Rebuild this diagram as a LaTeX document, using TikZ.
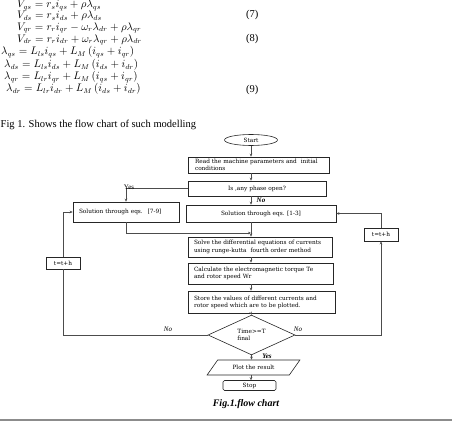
\documentclass[tikz,border=0pt]{standalone}
\usepackage{fontspec}
\setmainfont{Liberation Serif}
\newfontfamily\organi{DejaVu Serif}
\usetikzlibrary{shapes.geometric,arrows.meta}

\tikzset{
  eqn/.style={anchor=west, inner sep=0pt, font=\fontsize{10.5}{12}\selectfont},
  boite/.style={draw=black!85, rectangle, line width=0.6pt, inner sep=0pt, font=\organi\fontsize{5.8}{7.2}\selectfont},
  fleche/.style={draw=black!70, line width=0.5pt, -{Stealth[length=3pt,width=2.6pt]}},
  lien/.style={draw=black!70, line width=0.5pt},
  etiq/.style={inner sep=0pt, font=\fontsize{7}{8}\selectfont}
}

\begin{document}
\begin{tikzpicture}[x=1pt,y=-1pt]
    \useasboundingbox (0,0) rectangle (452,422);

    % Equations du modele
    \node[eqn] (eqA) at (17,5.5) {$V_{qs} = r_s i_{qs} + \rho\lambda_{qs}$};
    \node[eqn] (eqB) at (17,16) {$V_{ds} = r_s i_{ds} + \rho\lambda_{ds}$};
    \node[eqn] (eqC) at (17,28) {$V_{qr} = r_r i_{qr} - \omega_r\lambda_{dr} + \rho\lambda_{qr}$};
    \node[eqn] (eqD) at (17,40) {$V_{dr} = r_r i_{dr} + \omega_r\lambda_{qr} + \rho\lambda_{dr}$};
    \node[eqn] (eqE) at (1,52) {$\lambda_{qs} = L_{ls} i_{qs} + L_M\left(i_{qs} + i_{qr}\right)$};
    \node[eqn] (eqF) at (4,65) {$\lambda_{ds} = L_{ls} i_{ds} + L_M\left(i_{ds} + i_{dr}\right)$};
    \node[eqn] (eqG) at (4,77) {$\lambda_{qr} = L_{lr} i_{qr} + L_M\left(i_{qs} + i_{qr}\right)$};
    \node[eqn] (eqH) at (6,89) {$\lambda_{dr} = L_{lr} i_{dr} + L_M\left(i_{ds} + i_{dr}\right)$};
    \node[eqn] (num7) at (246,15) {(7)};
    \node[eqn] (num8) at (246,39) {(8)};
    \node[eqn] (num9) at (246,90) {(9)};
    \node[eqn] (phrase) at (0.5,125) {Fig 1. Shows the flow chart of such modelling};

    % Organigramme
    \coordinate (axe) at (251,0);
    \node[draw=black!85, ellipse, line width=0.6pt, inner sep=0pt, minimum width=53, minimum height=11,
          font=\organi\fontsize{5.8}{7}\selectfont] (debut) at (251,140) {Start};
    \node[boite, minimum width=141, minimum height=16, text width=127, align=left] (lire) at (258.5,165)
        {Read the machine parameters and~ initial\\conditions};
    \node[boite, minimum width=138, minimum height=15] (phase) at (257,188.5) {Is ,any phase open?};
    \node[boite, minimum width=106, minimum height=20, text width=94, align=left] (solA) at (126,212)
        {Solution through eqs.~ [7-9]};
    \node[boite, minimum width=150, minimum height=17] (solB) at (261,213.5) {Solution through eqs. [1-3]};
    \node[boite, minimum width=144, minimum height=20, text width=132, align=left] (resoudre) at (260,247)
        {Solve the differential equations of currents\\using runge-kutta~ fourth order method};
    \node[boite, minimum width=145, minimum height=21, text width=133, align=left] (calcul) at (260.5,273.5)
        {Calculate the electromagnetic torque Te\\and rotor speed Wr};
    \node[boite, minimum width=147, minimum height=22, text width=135, align=left] (stocker) at (261.5,302)
        {Store the values of different currents and\\rotor speed which are to be plotted.};
    \node[boite, diamond, minimum width=87, minimum height=32, align=left] (test) at (251.5,335)
        {Time>=T\\final};
    \node[boite, trapezium, trapezium left angle=36, trapezium right angle=144, trapezium stretches=true,
          minimum width=93, minimum height=15] (trace) at (253.5,367.5) {Plot the result};
    \node[boite, rounded corners=1.5pt, minimum width=53, minimum height=10] (fin) at (249.5,385.5) {Stop};
    \node[boite, minimum width=34, minimum height=12] (pasG) at (63,263) {t=t+h};
    \node[boite, minimum width=34, minimum height=13] (pasD) at (381,234.5) {t=t+h};

    % Liaisons
    \draw[fleche] (debut.south) -- (lire.north -| axe);
    \draw[fleche] (lire.south -| axe) -- (phase.north -| axe);
    \draw[fleche] (phase.west) -| (solA.north);
    \draw[fleche] (phase.south -| axe) -- (solB.north -| axe);
    \coordinate (jonction) at (251,233);
    \draw[fleche] (solA.south) |- (jonction);
    \draw[fleche] (solB.south -| axe) -- (resoudre.north -| axe);
    \draw[fleche] (resoudre.south -| axe) -- (calcul.north -| axe);
    \draw[fleche] (calcul.south -| axe) -- (stocker.north -| axe);
    \draw[fleche] (stocker.south -| axe) -- (test.north);
    \draw[fleche] (test.south) -- (trace.north -| test.south);
    \draw[fleche] (trace.south -| axe) -- (fin.north -| axe);
    % Boucle gauche
    \draw[lien] (test.west) -| (pasG.south);
    \draw[fleche] (pasG.north) |- (solA.west);
    % Boucle droite
    \draw[fleche] (test.east) -| (pasD.south);
    \draw[fleche] (pasD.north) |- (solB.east);

    \node[etiq] (oui1) at (129,187) {Yes};
    \node[etiq, font=\fontsize{7}{8}\selectfont\bfseries\itshape] (non1) at (261,200) {No};
    \node[etiq, font=\fontsize{7}{8}\selectfont\itshape] (non2) at (168,329) {No};
    \node[etiq, font=\fontsize{7}{8}\selectfont\itshape] (non3) at (298,329) {No};
    \node[etiq, font=\fontsize{7}{8}\selectfont\bfseries\itshape] (oui2) at (267,356.5) {Yes};

    % Legende
    \node[inner sep=0pt, font=\fontsize{10}{12}\selectfont\bfseries\itshape] (legende) at (246,404) {Fig.1.flow chart};
    \draw[black!45, line width=1.6pt] (0,420) -- (452,420);
\end{tikzpicture}
\end{document}
